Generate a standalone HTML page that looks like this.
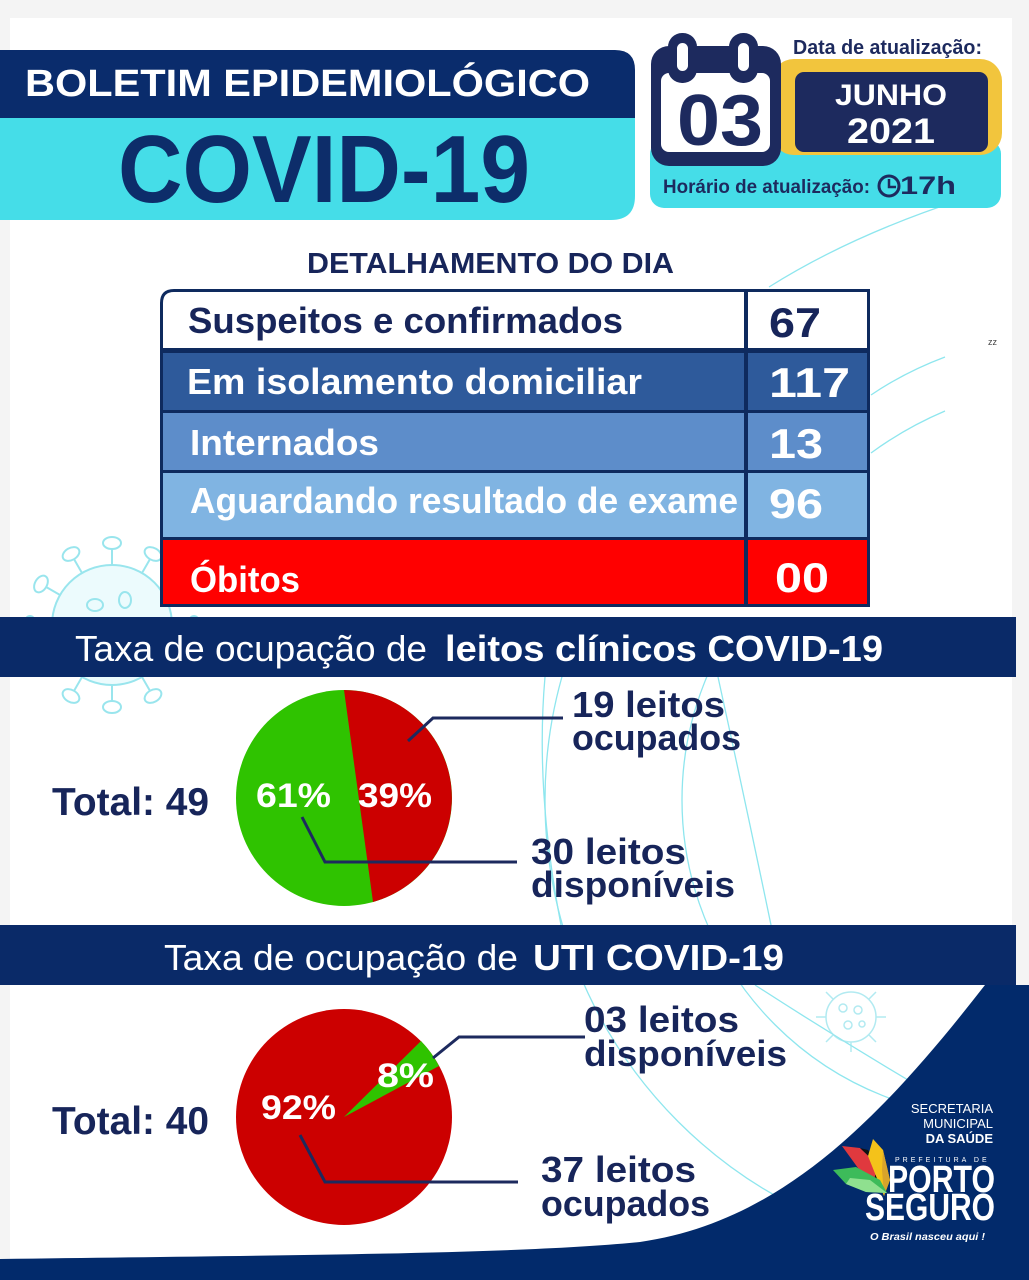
<!DOCTYPE html>
<html>
<head>
<meta charset="utf-8">
<style>
html,body{margin:0;padding:0;width:1029px;height:1280px;overflow:hidden;background:#f4f4f4;}
svg{display:block;font-family:"Liberation Sans","DejaVu Sans",sans-serif;}
</style>
</head>
<body>
<svg width="1029" height="1280" viewBox="0 0 1029 1280" xmlns="http://www.w3.org/2000/svg">
<defs>
  <clipPath id="lowclip">
    <rect x="10" y="677" width="1002" height="248"/>
    <rect x="10" y="985" width="1002" height="275"/>
  </clipPath>
</defs>
<rect width="1029" height="1280" fill="#f4f4f4"/>
<rect x="10" y="18" width="1002" height="1262" fill="#ffffff"/>

<!-- decorative arcs -->
<g fill="none" stroke="#8ee6ee" stroke-width="1.3">
  <path d="M769,287 Q850,236 960,200"/>
  <path d="M871,395 Q905,372 945,357"/>
  <path d="M871,453 Q905,428 945,411"/>
  <g clip-path="url(#lowclip)">
    <circle cx="1000" cy="800" r="455"/>
    <circle cx="1000" cy="800" r="318"/>
    <path d="M718,677 Q745,800 771,925"/>
    <path d="M755,985 Q840,1040 925,1090"/>
    <path d="M545,677 Q535,790 561,925"/>
  </g>
</g>

<!-- left virus -->
<g stroke="#8fe3ec" stroke-width="2" fill="none" opacity="0.9">
  <circle cx="112" cy="625" r="60" fill="#eafbfd"/>
  <g><line x1="172" y1="625" x2="188" y2="625"/><ellipse cx="194" cy="625" rx="6" ry="9"/></g>
  <g transform="rotate(30 112 625)"><line x1="172" y1="625" x2="188" y2="625"/><ellipse cx="194" cy="625" rx="6" ry="9"/></g>
  <g transform="rotate(60 112 625)"><line x1="172" y1="625" x2="188" y2="625"/><ellipse cx="194" cy="625" rx="6" ry="9"/></g>
  <g transform="rotate(90 112 625)"><line x1="172" y1="625" x2="188" y2="625"/><ellipse cx="194" cy="625" rx="6" ry="9"/></g>
  <g transform="rotate(120 112 625)"><line x1="172" y1="625" x2="188" y2="625"/><ellipse cx="194" cy="625" rx="6" ry="9"/></g>
  <g transform="rotate(150 112 625)"><line x1="172" y1="625" x2="188" y2="625"/><ellipse cx="194" cy="625" rx="6" ry="9"/></g>
  <g transform="rotate(180 112 625)"><line x1="172" y1="625" x2="188" y2="625"/><ellipse cx="194" cy="625" rx="6" ry="9"/></g>
  <g transform="rotate(210 112 625)"><line x1="172" y1="625" x2="188" y2="625"/><ellipse cx="194" cy="625" rx="6" ry="9"/></g>
  <g transform="rotate(240 112 625)"><line x1="172" y1="625" x2="188" y2="625"/><ellipse cx="194" cy="625" rx="6" ry="9"/></g>
  <g transform="rotate(270 112 625)"><line x1="172" y1="625" x2="188" y2="625"/><ellipse cx="194" cy="625" rx="6" ry="9"/></g>
  <g transform="rotate(300 112 625)"><line x1="172" y1="625" x2="188" y2="625"/><ellipse cx="194" cy="625" rx="6" ry="9"/></g>
  <g transform="rotate(330 112 625)"><line x1="172" y1="625" x2="188" y2="625"/><ellipse cx="194" cy="625" rx="6" ry="9"/></g>
  <ellipse cx="95" cy="605" rx="8" ry="6"/>
  <ellipse cx="125" cy="600" rx="6" ry="8"/>
  <ellipse cx="100" cy="640" rx="7" ry="9"/>
  <ellipse cx="135" cy="635" rx="8" ry="6"/>
</g>

<!-- header -->
<path d="M0,50 H615 Q635,50 635,70 V118 H0 Z" fill="#0a2c6c"/>
<path d="M0,118 H635 V196 Q635,220 611,220 H0 Z" fill="#45dde8"/>
<text x="25" y="96" font-size="38" font-weight="bold" fill="#ffffff" textLength="565" lengthAdjust="spacingAndGlyphs">BOLETIM EPIDEMIOLÓGICO</text>
<text x="118" y="202" font-size="96" font-weight="bold" fill="#0d2d6a" textLength="412" lengthAdjust="spacingAndGlyphs">COVID-19</text>

<!-- calendar block -->
<rect x="650" y="140" width="351" height="68" rx="14" fill="#45dde8"/>
<rect x="772" y="59" width="230" height="96" rx="22" fill="#f2c53d"/>
<rect x="795" y="72" width="193" height="80" rx="9" fill="#1d2a5e"/>
<rect x="651" y="46" width="130" height="120" rx="18" fill="#1d2a5e"/>
<rect x="661" y="73" width="109" height="79" rx="8" fill="#ffffff"/>
<rect x="668" y="33" width="29" height="50" rx="14" fill="#1d2a5e"/>
<rect x="677" y="43" width="11" height="28" rx="5.5" fill="#ffffff"/>
<rect x="729" y="33" width="29" height="50" rx="14" fill="#1d2a5e"/>
<rect x="738" y="43" width="11" height="28" rx="5.5" fill="#ffffff"/>
<text x="677" y="145" font-size="72" font-weight="bold" fill="#1d2a5e" textLength="86" lengthAdjust="spacingAndGlyphs">03</text>
<text x="793" y="54" font-size="20" font-weight="bold" fill="#1d2a5e" textLength="189" lengthAdjust="spacingAndGlyphs">Data de atualização:</text>
<text x="835" y="105" font-size="30" font-weight="bold" fill="#ffffff" textLength="112" lengthAdjust="spacingAndGlyphs">JUNHO</text>
<text x="847" y="143" font-size="35" font-weight="bold" fill="#ffffff" textLength="88" lengthAdjust="spacingAndGlyphs">2021</text>
<text x="663" y="193" font-size="19" font-weight="bold" fill="#1d2a5e" textLength="207" lengthAdjust="spacingAndGlyphs">Horário de atualização:</text>
<circle cx="889" cy="186" r="10" fill="none" stroke="#1d2a5e" stroke-width="3"/>
<path d="M889,179 V187 H896" fill="none" stroke="#1d2a5e" stroke-width="2.5"/>
<text x="900" y="194" font-size="25" font-weight="bold" fill="#1d2a5e" textLength="56" lengthAdjust="spacingAndGlyphs">17h</text>

<text x="988" y="345" font-size="9" fill="#444">zz</text>

<!-- title -->
<text x="307" y="273" font-size="29" font-weight="bold" fill="#17255a" textLength="367" lengthAdjust="spacingAndGlyphs">DETALHAMENTO DO DIA</text>

<!-- table -->
<path d="M174,289 H870 V607 H160 V303 Q160,289 174,289 Z" fill="#0e2a5e"/>
<path d="M174,292 H744 V348 H163 V303 Q163,292 174,292 Z" fill="#ffffff"/>
<rect x="748" y="292" width="119" height="56" fill="#ffffff"/>
<rect x="163" y="353" width="581" height="57" fill="#2e5a9b"/>
<rect x="748" y="353" width="119" height="57" fill="#2e5a9b"/>
<rect x="163" y="413" width="581" height="57" fill="#5d8dca"/>
<rect x="748" y="413" width="119" height="57" fill="#5d8dca"/>
<rect x="163" y="473" width="581" height="64" fill="#80b4e2"/>
<rect x="748" y="473" width="119" height="64" fill="#80b4e2"/>
<rect x="163" y="540" width="581" height="64" fill="#ff0000"/>
<rect x="748" y="540" width="119" height="64" fill="#ff0000"/>

<g font-weight="bold" font-size="36" lengthAdjust="spacingAndGlyphs">
  <text x="188" y="333" fill="#17255a" textLength="435" lengthAdjust="spacingAndGlyphs">Suspeitos e confirmados</text>
  <text x="187" y="394" fill="#ffffff" textLength="455" lengthAdjust="spacingAndGlyphs">Em isolamento domiciliar</text>
  <text x="190" y="455" fill="#ffffff" textLength="189" lengthAdjust="spacingAndGlyphs">Internados</text>
  <text x="190" y="513" fill="#ffffff" textLength="548" lengthAdjust="spacingAndGlyphs">Aguardando resultado de exame</text>
  <text x="190" y="592" fill="#ffffff" textLength="110" lengthAdjust="spacingAndGlyphs">Óbitos</text>
</g>
<g font-weight="bold" font-size="42">
  <text x="769" y="337" fill="#17255a" textLength="52" lengthAdjust="spacingAndGlyphs">67</text>
  <text x="769" y="397" fill="#ffffff" textLength="81" lengthAdjust="spacingAndGlyphs">117</text>
  <text x="769" y="458" fill="#ffffff" textLength="54" lengthAdjust="spacingAndGlyphs">13</text>
  <text x="769" y="518" fill="#ffffff" textLength="54" lengthAdjust="spacingAndGlyphs">96</text>
  <text x="775" y="592" fill="#ffffff" textLength="54" lengthAdjust="spacingAndGlyphs">00</text>
</g>

<!-- banner 1 -->
<rect x="0" y="617" width="1016" height="60" fill="#0a2a68"/>
<text x="75" y="661" font-size="36" fill="#ffffff" textLength="352" lengthAdjust="spacingAndGlyphs">Taxa de ocupação de</text>
<text x="445" y="661" font-size="36" font-weight="bold" fill="#ffffff" textLength="438" lengthAdjust="spacingAndGlyphs">leitos clínicos COVID-19</text>

<!-- pie 1 -->
<circle cx="344" cy="798" r="108" fill="#2fc300"/>
<path d="M344,690 A108,108 0 0 1 373,902 Z" fill="#cc0000"/>
<text x="256" y="807" font-size="34" font-weight="bold" fill="#ffffff" textLength="75" lengthAdjust="spacingAndGlyphs">61%</text>
<text x="358" y="807" font-size="34" font-weight="bold" fill="#ffffff" textLength="74" lengthAdjust="spacingAndGlyphs">39%</text>
<polyline points="408,741 433,718 563,718" fill="none" stroke="#1d2a5e" stroke-width="3"/>
<polyline points="302,817 325,862 517,862" fill="none" stroke="#1d2a5e" stroke-width="3"/>
<g font-weight="bold" font-size="36" fill="#17255a">
  <text x="52" y="815" font-size="39" textLength="157" lengthAdjust="spacingAndGlyphs">Total: 49</text>
  <text x="572" y="717" textLength="153" lengthAdjust="spacingAndGlyphs">19 leitos</text>
  <text x="572" y="750" textLength="169" lengthAdjust="spacingAndGlyphs">ocupados</text>
  <text x="531" y="864" textLength="155" lengthAdjust="spacingAndGlyphs">30 leitos</text>
  <text x="531" y="897" textLength="204" lengthAdjust="spacingAndGlyphs">disponíveis</text>
</g>

<!-- banner 2 -->
<rect x="0" y="925" width="1016" height="60" fill="#0a2a68"/>
<text x="164" y="970" font-size="36" fill="#ffffff" textLength="354" lengthAdjust="spacingAndGlyphs">Taxa de ocupação de</text>
<text x="533" y="970" font-size="36" font-weight="bold" fill="#ffffff" textLength="251" lengthAdjust="spacingAndGlyphs">UTI COVID-19</text>

<!-- small virus bottom -->
<g stroke="#9fe6ee" stroke-width="1.5" fill="none" opacity="0.8">
  <circle cx="851" cy="1017" r="25"/>
  <circle cx="843" cy="1008" r="4"/><circle cx="858" cy="1010" r="4"/><circle cx="848" cy="1025" r="4"/><circle cx="862" cy="1024" r="3"/>
  <line x1="876" y1="1017" x2="886" y2="1017"/><line x1="826" y1="1017" x2="816" y2="1017"/>
  <line x1="851" y1="1042" x2="851" y2="1052"/><line x1="869" y1="1035" x2="876" y2="1042"/>
  <line x1="833" y1="1035" x2="826" y2="1042"/><line x1="869" y1="999" x2="876" y2="992"/>
  <line x1="833" y1="999" x2="826" y2="992"/>
</g>

<!-- bottom navy shape -->
<path d="M985,985 L1029,985 L1029,1280 L0,1280 L0,1259 C300,1255 520,1254 640,1242 C780,1222 880,1120 985,985 Z" fill="#022a6b"/>

<!-- pie 2 -->
<circle cx="344" cy="1117" r="108" fill="#cc0000"/>
<path d="M344,1117 L421,1041 A108,108 0 0 1 439,1066 Z" fill="#2fc300"/>
<text x="261" y="1119" font-size="34" font-weight="bold" fill="#ffffff" textLength="75" lengthAdjust="spacingAndGlyphs">92%</text>
<text x="377" y="1087" font-size="34" font-weight="bold" fill="#ffffff" textLength="57" lengthAdjust="spacingAndGlyphs">8%</text>
<polyline points="433,1058 459,1037 585,1037" fill="none" stroke="#1d2a5e" stroke-width="3"/>
<polyline points="300,1135 325,1182 518,1182" fill="none" stroke="#1d2a5e" stroke-width="3"/>
<g font-weight="bold" font-size="36" fill="#17255a">
  <text x="52" y="1134" font-size="39" textLength="157" lengthAdjust="spacingAndGlyphs">Total: 40</text>
  <text x="584" y="1032" textLength="155" lengthAdjust="spacingAndGlyphs">03 leitos</text>
  <text x="584" y="1066" textLength="203" lengthAdjust="spacingAndGlyphs">disponíveis</text>
  <text x="541" y="1182" textLength="155" lengthAdjust="spacingAndGlyphs">37 leitos</text>
  <text x="541" y="1216" textLength="169" lengthAdjust="spacingAndGlyphs">ocupados</text>
</g>

<!-- logo -->
<g fill="#ffffff" font-weight="bold">
  <text x="993" y="1113" font-size="13" text-anchor="end" font-weight="normal">SECRETARIA</text>
  <text x="993" y="1128" font-size="13" text-anchor="end" font-weight="normal">MUNICIPAL</text>
  <text x="993" y="1143" font-size="13" text-anchor="end">DA SAÚDE</text>
  <text x="895" y="1162" font-size="7" letter-spacing="3" font-weight="normal">PREFEITURA DE</text>
  <text x="888" y="1192" font-size="38" textLength="107" lengthAdjust="spacingAndGlyphs">PORTO</text>
  <text x="865" y="1220" font-size="38" textLength="130" lengthAdjust="spacingAndGlyphs">SEGURO</text>
  <text x="870" y="1240" font-size="10" font-style="italic" textLength="115" lengthAdjust="spacingAndGlyphs">O Brasil nasceu aqui !</text>
</g>
<polygon points="842,1146 860,1148 878,1165 874,1180 858,1168" fill="#e0393e"/>
<polygon points="860,1148 868,1150 882,1172 878,1184 874,1180 878,1165" fill="#111111"/>
<polygon points="873,1139 883,1150 890,1180 884,1196 876,1176 868,1156" fill="#f4c21a"/>
<polygon points="883,1150 890,1180 884,1196 882,1170" fill="#d8a42b"/>
<polygon points="833,1170 856,1167 880,1180 887,1193 866,1192 846,1184" fill="#3dbb5a"/>
<polygon points="846,1184 866,1192 887,1193 870,1180 850,1178" fill="#8fe08f"/>
</svg>
</body>
</html>
